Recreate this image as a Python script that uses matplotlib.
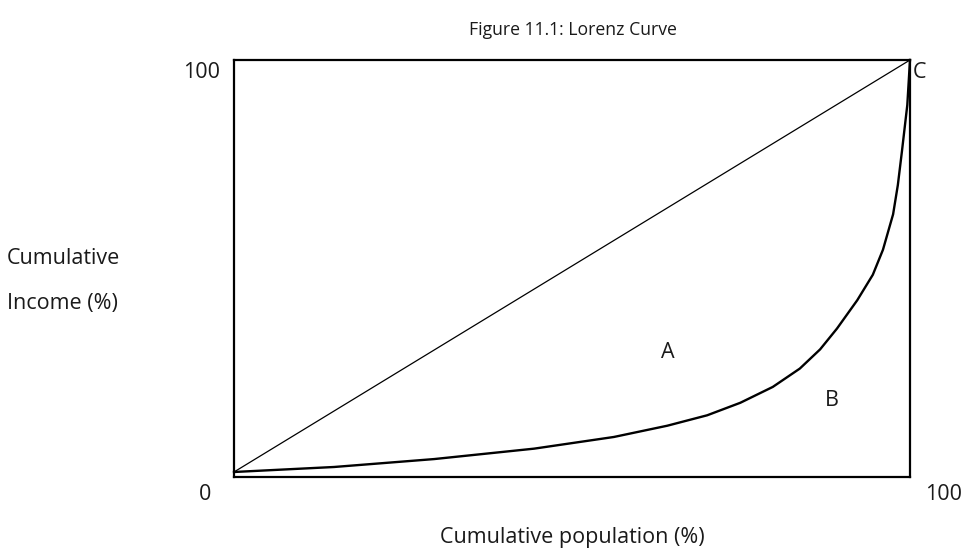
import matplotlib
matplotlib.use("Agg")
import matplotlib.pyplot as plt

# Data (percent)
pop_share = [0, 14.8, 29.6, 44.4, 56.2, 64.1, 70.0, 74.9, 79.7, 83.7, 86.7, 89.2, 92.2,
             94.5, 96.0, 97.5, 98.2, 98.8, 99.6, 100]
income_share = [1.2, 2.4, 4.3, 6.8, 9.6, 12.3, 14.8, 17.8, 21.6, 26.0, 30.6, 35.6, 42.4,
                48.5, 54.5, 63.0, 70.0, 78.0, 89.2, 100]
equality_x = [0, 100]
equality_y = [1.2, 100]

plt.rcParams['font.family'] = ['Open Sans', 'DejaVu Sans']

W, H = 964, 550
fig = plt.figure(figsize=(W / 100, H / 100), dpi=100)
ax = fig.add_axes([234 / W, (H - 477) / H, 676 / W, 417 / H])
ax.set_xlim(0, 100)
ax.set_ylim(0, 100)
for s in ax.spines.values():
    s.set_linewidth(1.6)
    s.set_color('black')
ax.set_xticks([])
ax.set_yticks([])

ax.plot(equality_x, equality_y, color='black', lw=0.9, clip_on=False)
ax.plot(pop_share, income_share, color='black', lw=1.7, clip_on=False,
        solid_joinstyle='round')

def px(x, y):
    return (x / W, 1 - y / H)

fs = 15.5
txt = dict(fontsize=fs, color='#1a1a1a')
fig.text(*px(573, 30), 'Figure 11.1: Lorenz Curve', ha='center', va='center', fontsize=12.7, color='#1a1a1a')
fig.text(*px(220, 72), '100', ha='right', va='center', **txt)
fig.text(*px(205, 494), '0', ha='center', va='center', **txt)
fig.text(*px(944, 494), '100', ha='center', va='center', **txt)
fig.text(*px(913, 72), 'C', ha='left', va='center', **txt)
fig.text(*px(7, 258), 'Cumulative', ha='left', va='center', **txt)
fig.text(*px(7, 303), 'Income (%)', ha='left', va='center', **txt)
fig.text(*px(668, 353), 'A', ha='center', va='center', **txt)
fig.text(*px(832, 401), 'B', ha='center', va='center', **txt)
fig.text(*px(572, 538), 'Cumulative population (%)', ha='center', va='center', **txt)

fig.savefig('out.png', dpi=100)
